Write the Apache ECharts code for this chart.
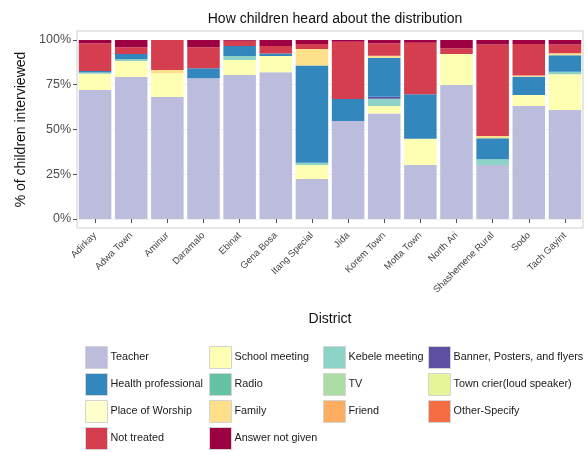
<!DOCTYPE html>
<html>
<head>
<meta charset="utf-8">
<script src="https://cdn.jsdelivr.net/npm/echarts@6/dist/echarts.min.js"></script>
<style>
  html, body { margin: 0; padding: 0; background: #fff; }
  #chart { width: 587px; height: 452px; }
</style>
</head>
<body>
<div id="chart"></div>
<script>
const districts = ['Adirkay', 'Adwa Town', 'Aminur', 'Daramalo', 'Ebinat', 'Gena Bosa', 'Itang Special',
  'Jida', 'Korem Town', 'Motta Town', 'North Ari', 'Shashemene Rural', 'Sodo', 'Tach Gayint'];
const yTicks = [0, 25, 50, 75, 100];

// % of children per source, one value per district
const teacher       = [72, 79.3, 68.2, 78.6, 80.4, 82, 22.3, 54.7, 59, 30.2, 74.9, 30.2, 63.1, 60.9];
const placeWorship  = [0, 0, 0, 0, 0, 0, 0, 0, 0, 0, 0, 0, 0, 0];
const schoolMeeting = [9.1, 9, 13.2, 0, 8.4, 9, 7.9, 0, 4.1, 14.7, 17.3, 0, 6.2, 19.9];
const townCrier     = [0, 0, 0, 0, 0, 0, 0, 0, 0, 0, 0, 0, 0, 0];
const tv            = [0, 0, 0, 0, 0, 0, 0, 0, 0, 0, 0, 0, 0, 0];
const kebele        = [0.7, 0.9, 0, 0, 2.2, 0, 1.3, 0, 4.1, 0, 0, 3.2, 0, 1.5];
const radio         = [0, 0, 0, 0, 0, 0, 0, 0, 0, 0, 0, 0, 0, 0];
const banner        = [0, 0, 0, 0, 0, 0, 0, 0, 1.1, 0, 0, 0, 0, 0];
const health        = [0.9, 3, 0, 5.6, 5.6, 1.5, 54.2, 12.3, 21.8, 24.8, 0, 11.7, 10.2, 9.1];
const family        = [0, 0, 1.8, 0, 0, 0, 9.3, 0, 1.1, 0, 0, 1.3, 0.6, 1.2];
const friend        = [0, 0, 0, 0, 0, 0, 0, 0, 0, 0, 0, 0, 0, 0];
const otherSpecify  = [0, 0, 0, 0, 0, 0, 0, 0, 0, 0, 0, 0, 0, 0];
const notTreated    = [15.5, 3.7, 16.8, 11.7, 2.9, 4.1, 2.8, 32, 6.9, 28.8, 3.2, 51, 17.7, 4.8];
const answerNone    = [1.8, 4.1, 0, 4.1, 0.5, 3.4, 2.2, 1, 1.9, 1.5, 4.6, 2.6, 2.2, 2.6];

// stacked bottom -> top
const stack = [
  ['Teacher', teacher, '#BCBDDC'],
  ['Place of Worship', placeWorship, '#FFFFCC'],
  ['School meeting', schoolMeeting, '#FFFFB3'],
  ['Town crier(loud speaker)', townCrier, '#E6F598'],
  ['TV', tv, '#ABDDA4'],
  ['Kebele meeting', kebele, '#8DD3C7'],
  ['Radio', radio, '#66C2A5'],
  ['Banner, Posters, and flyers', banner, '#5E4FA2'],
  ['Health professional', health, '#3288BD'],
  ['Family', family, '#FEE08B'],
  ['Friend', friend, '#FDAE61'],
  ['Other-Specify', otherSpecify, '#F46D43'],
  ['Not treated', notTreated, '#D53E4F'],
  ['Answer not given', answerNone, '#9E0142']
];

const legendCols = [
  ['Teacher', 'Health professional', 'Place of Worship', 'Not treated'],
  ['School meeting', 'Radio', 'Family', 'Answer not given'],
  ['Kebele meeting', 'TV', 'Friend'],
  ['Banner, Posters, and flyers', 'Town crier(loud speaker)', 'Other-Specify']
];
const legendLeft = [85, 209, 323, 428];

const font = 'Liberation Sans, Arial, sans-serif';
const chart = echarts.init(document.getElementById('chart'));

chart.setOption({
  animation: false,
  textStyle: { fontFamily: font },
  title: {
    text: 'How children heard about the distribution',
    left: 330, top: 7, textAlign: 'center',
    textStyle: { fontSize: 14, fontWeight: 'normal', color: '#111', fontFamily: font }
  },
  grid: {
    left: 77, right: 4, top: 31, bottom: 224,
    show: true, borderColor: '#cfcfcf', borderWidth: 1, backgroundColor: '#fff'
  },
  legend: legendCols.map((col, i) => ({
    data: col,
    orient: 'vertical',
    left: legendLeft[i], top: 346,
    padding: 0,
    itemWidth: 22, itemHeight: 22, itemGap: 4,
    icon: 'rect',
    selectedMode: false,
    itemStyle: { borderColor: '#d4d4d4', borderWidth: 1 },
    textStyle: { fontSize: 10.8, color: '#1a1a1a', fontFamily: font, padding: [0, 0, 0, -2] }
  })),
  xAxis: {
    type: 'category',
    data: districts,
    name: 'District',
    nameLocation: 'middle',
    nameGap: 84,
    nameTextStyle: { fontSize: 14, color: '#111' },
    axisLine: { show: false },
    axisTick: { show: true, alignWithLabel: true, length: 4, lineStyle: { color: '#555' } },
    axisLabel: { rotate: 45, fontSize: 9.5, color: '#444', margin: 6, interval: 0 },
    splitLine: { show: false }
  },
  yAxis: {
    type: 'value',
    min: -5, max: 105,
    name: '% of children interviewed',
    nameLocation: 'middle',
    nameGap: 49,
    nameTextStyle: { fontSize: 14, color: '#111' },
    axisLine: { show: false },
    axisTick: { show: true, length: 4, customValues: yTicks, lineStyle: { color: '#555' } },
    axisLabel: { fontSize: 12.5, color: '#4d4d4d', margin: 6, customValues: yTicks, formatter: v => v + '%' },
    splitLine: { show: true, lineStyle: { color: '#f0f0f0', width: 1 } }
  },
  series: stack.map(([name, data, color]) => ({
    name: name,
    type: 'bar',
    stack: 'all',
    data: data,
    barCategoryGap: '10%',
    itemStyle: { color: color }
  }))
});
</script>
</body>
</html>
